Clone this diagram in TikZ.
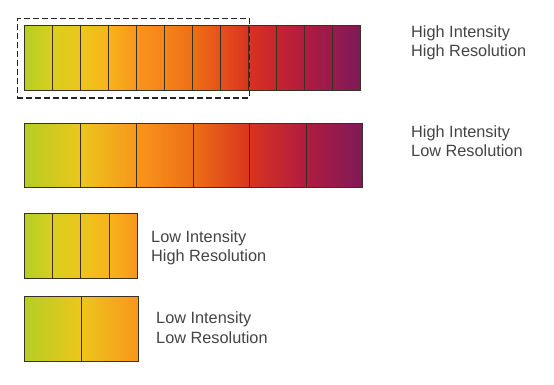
\documentclass[tikz,border=0pt]{standalone}
\usepackage{fontspec}
\setmainfont{Liberation Sans}
\usepackage{xcolor}
\usetikzlibrary{
    shapes,
    positioning
}
\definecolor{s0}{HTML}{B4CE24}
\definecolor{s1}{HTML}{D8CF1E}
\definecolor{s2}{HTML}{ECC61C}
\definecolor{s3}{HTML}{F8B41A}
\definecolor{s4}{HTML}{F8961C}
\definecolor{s5}{HTML}{F4841A}
\definecolor{s6}{HTML}{EE6E16}
\definecolor{s7}{HTML}{E6521A}
\definecolor{s8}{HTML}{D8341E}
\definecolor{s9}{HTML}{C82430}
\definecolor{s10}{HTML}{B01C40}
\definecolor{s11}{HTML}{981A4E}
\definecolor{s12}{HTML}{7E1A58}
\definecolor{edgecol}{HTML}{3A3020}
\definecolor{labelcol}{HTML}{444444}
\tikzset{
    cell/.style={rectangle, draw=edgecol, line width=0.8pt, inner sep=0pt},
    selbox/.style={rectangle, draw=black!85, dash pattern=on 6pt off 3pt,
        line width=1.6pt, inner sep=0pt},
    caption/.style={anchor=west, align=left, inner sep=0pt, text=labelcol,
        font=\fontsize{16.3}{19.5}\selectfont}
}

\begin{document}
\begin{tikzpicture}[x=1pt, y=-1pt]
    \useasboundingbox (0,0) rectangle (554,384);
    % high intensity, high resolution
    \foreach \i in {1,...,12} {
        \pgfmathtruncatemacro{\j}{\i-1}
        \node[cell, minimum width=28pt, minimum height=65pt,
            left color=s\j, right color=s\i] (hh\i) at (24+28*\i-14, 57.5) {};
    }
    \node[selbox, minimum width=232pt, minimum height=79.4pt] (sel) at (133.3, 58) {};
    \node[caption] (hhtext) at (411, 43) {High Intensity\\High Resolution};
    % high intensity, low resolution
    \foreach \i in {1,...,6} {
        \pgfmathtruncatemacro{\j}{2*\i-2}
        \pgfmathtruncatemacro{\k}{2*\i}
        \node[cell, minimum width=56.4pt, minimum height=64.4pt,
            left color=s\j, right color=s\k] (hl\i) at (24+56.4*\i-28.2, 155.5) {};
    }
    \node[caption] (hltext) at (411, 141) {High Intensity\\Low Resolution};
    % low intensity, high resolution
    \foreach \i in {1,...,4} {
        \pgfmathtruncatemacro{\j}{\i-1}
        \node[cell, minimum width=28.3pt, minimum height=65pt,
            left color=s\j, right color=s\i] (lh\i) at (24+28.3*\i-14.15, 245.8) {};
    }
    \node[caption] (lhtext) at (151, 248) {Low Intensity\\High Resolution};
    % low intensity, low resolution
    \foreach \i in {1,2} {
        \pgfmathtruncatemacro{\j}{2*\i-2}
        \pgfmathtruncatemacro{\k}{2*\i}
        \node[cell, minimum width=57pt, minimum height=64.3pt,
            left color=s\j, right color=s\k] (ll\i) at (24+57*\i-28.5, 328.8) {};
    }
    \node[caption] (lltext) at (156, 327.5) {Low Intensity\\Low Resolution};
\end{tikzpicture}
\end{document}
